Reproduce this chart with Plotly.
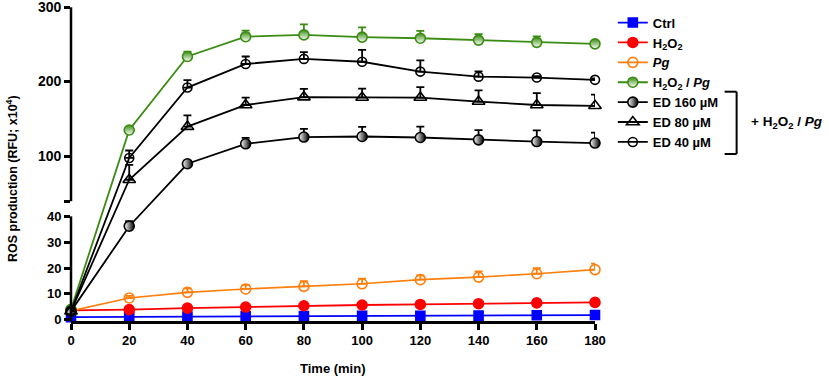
import plotly.graph_objects as go

# ---------------- data ----------------
time = [0, 20, 40, 60, 80, 100, 120, 140, 160, 180]
ctrl = [1.0, 1.1, 1.2, 1.3, 1.4, 1.5, 1.5, 1.6, 1.7, 1.8]
ctrl_err = [0, 0, 0, 0, 0, 0, 0, 0, 0, 0]
h2o2 = [3.6, 3.9, 4.5, 4.9, 5.4, 5.7, 5.9, 6.2, 6.5, 6.7]
h2o2_err = [0, 0, 0, 0, 0, 0, 0, 0, 0, 0]
pg = [3.4, 8.4, 10.6, 11.9, 12.9, 13.9, 15.5, 16.5, 17.8, 19.4]
pg_err = [0, 0.8, 1.5, 1.6, 2.0, 2.0, 1.7, 2.2, 2.2, 2.3]
h2o2_pg = [4.0, 135.5, 234, 260.6, 263, 260, 258.5, 256, 253, 251]
h2o2_pg_err = [0, 4, 6.5, 8, 14, 13, 10, 8, 8, 2]
ed160 = [3.3, 36.2, 90.2, 117, 126, 126.8, 125.4, 122.3, 120, 118]
ed160_err = [0, 2, 2, 8, 11, 13, 14.5, 13, 15, 14]
ed80 = [3.3, 68.8, 140, 169, 179.6, 179, 179, 173.6, 169, 167.9]
ed80_err = [0, 20, 15, 10, 11, 12, 14, 15, 16, 15]
ed40 = [3.3, 98, 192.4, 224, 230.8, 227, 213.8, 207, 205.8, 202.7]
ed40_err = [0, 10, 10, 10, 9, 16, 15, 7, 2, 2]

x_ticks = [0, 20, 40, 60, 80, 100, 120, 140, 160, 180]
y_low_ticks = [0, 10, 20, 30, 40]
y_high_ticks = [40, 100, 200, 300]

# ---------------- broken-axis scale ----------------
LOW_TOP = 40
HIGH_BOTTOM = 40
HIGH_TOP = 300
PX_LOW = 2.587      # px per unit, lower segment
PX_GAP = 15.2       # px gap between segments
PX_HIGH = 0.747     # px per unit, upper segment


def T(v):
    if v <= LOW_TOP:
        return v * PX_LOW
    return LOW_TOP * PX_LOW + PX_GAP + (v - HIGH_BOTTOM) * PX_HIGH


Y0 = T(-0.5)
Y1 = T(HIGH_TOP) + 1.3


def yfrac(v_t):
    return (v_t - Y0) / (Y1 - Y0)


FONT = "Arial, Liberation Sans, sans-serif"

fig = go.Figure()


def add(name, y, err, color, symbol, size, fill=None, gradient=None, lw=1.8):
    yt = [T(v) for v in y]
    up = [T(v + e) - T(v) for v, e in zip(y, err)]
    marker = dict(symbol=symbol, size=size, color=fill if fill else color,
                  line=dict(color=color, width=1.6))
    if gradient:
        marker["gradient"] = gradient
    fig.add_trace(go.Scatter(
        x=time, y=yt, name=name, mode="lines+markers",
        line=dict(color=color, width=lw),
        marker=marker,
        error_y=dict(type="data", array=up, arrayminus=[0] * len(up),
                     symmetric=False, color=color, thickness=1.8, width=4),
        cliponaxis=False,
    ))


add("<b>Ctrl</b>", ctrl, ctrl_err, "#0000FF", "square", 9)
add("<b>H<sub>2</sub>O<sub>2</sub></b>", h2o2, h2o2_err, "#FF0000", "circle", 10)
add("<b><i>Pg</i></b>", pg, pg_err, "#FF7F0E", "circle-open", 10, lw=1.6)
add("<b>H<sub>2</sub>O<sub>2</sub> / <i>Pg</i></b>", h2o2_pg, h2o2_pg_err, "#3A8C12",
    "circle", 10, fill="#3A8C12", gradient=dict(type="vertical", color="white"))
add("<b>ED 160 µM</b>", ed160, ed160_err, "#000000", "circle", 10,
    fill="white", gradient=dict(type="horizontal", color="black"))
add("<b>ED 80 µM</b>", ed80, ed80_err, "#000000", "triangle-up-open", 11)
add("<b>ED 40 µM</b>", ed40, ed40_err, "#000000", "circle-open", 9)

tickvals = [T(v) for v in y_low_ticks] + [T(v) + PX_GAP for v in y_high_ticks[:1]] + \
           [T(v) for v in y_high_ticks[1:]]
ticktext = [str(v) for v in y_low_ticks] + [""] + \
           ['<span style="font-size:14px">%d</span>' % v for v in y_high_ticks[1:]]

fig.update_layout(
    width=829, height=378,
    margin=dict(l=71, r=233.7, t=6, b=57),
    plot_bgcolor="white", paper_bgcolor="white",
    font=dict(family=FONT, size=13, color="black"),
    showlegend=True,
    legend=dict(x=1.034, y=0.995, xanchor="left", yanchor="top",
                font=dict(family=FONT, size=13, color="black"),
                bgcolor="rgba(0,0,0,0)", tracegroupgap=0),
    xaxis=dict(range=[0, 180], tickvals=x_ticks, ticks="outside", ticklen=6,
               tickwidth=2.5, tickcolor="black", showline=True, linewidth=2.5,
               linecolor="black", showgrid=False, zeroline=False,
               automargin=False, ticklabeloverflow="allow",
               tickfont=dict(family=FONT, size=13, weight="bold")),
    yaxis=dict(range=[Y0, Y1], tickvals=tickvals, ticktext=ticktext,
               ticks="outside", ticklen=6, tickwidth=2.5, tickcolor="black",
               showline=False, showgrid=False, zeroline=False,
               automargin=False, ticklabeloverflow="allow",
               tickfont=dict(family=FONT, size=13, weight="bold")),
)

# broken y-axis line segments
fig.add_shape(type="line", xref="paper", yref="paper", x0=0, x1=0,
              y0=0, y1=yfrac(T(LOW_TOP)), line=dict(color="black", width=2.5))
fig.add_shape(type="line", xref="paper", yref="paper", x0=0, x1=0,
              y0=yfrac(T(HIGH_BOTTOM) + PX_GAP), y1=yfrac(T(HIGH_TOP)),
              line=dict(color="black", width=2.5))

# bracket for the ED group
ph = 378 - 6 - 57
bx = (737 - 71) / 524.3
bx0 = (725 - 71) / 524.3
by0 = (321 - 154) / ph
by1 = (321 - 91.7) / ph
fig.add_shape(type="line", xref="paper", yref="paper", x0=bx, x1=bx, y0=by0, y1=by1,
              line=dict(color="black", width=2))
fig.add_shape(type="line", xref="paper", yref="paper", x0=bx0, x1=bx, y0=by0, y1=by0,
              line=dict(color="black", width=2))
fig.add_shape(type="line", xref="paper", yref="paper", x0=bx0, x1=bx, y0=by1, y1=by1,
              line=dict(color="black", width=2))

fig.add_annotation(xref="paper", yref="paper", x=(749 - 71) / 524.3, y=(321 - 122.7) / ph,
                   xanchor="left", yanchor="middle", showarrow=False,
                   text="<b>+ H<sub>2</sub>O<sub>2</sub> / <i>Pg</i></b>",
                   font=dict(family=FONT, size=13.5, color="black"))

# axis titles
fig.add_annotation(xref="paper", yref="paper", x=(12 - 71) / 524.3, y=(321 - 179) / ph,
                   xanchor="center", yanchor="middle", showarrow=False, textangle=-90,
                   text="<b>ROS production (RFU; x10<sup>4</sup>)</b>",
                   font=dict(family=FONT, size=12.5, color="black"))
fig.add_annotation(xref="paper", yref="paper", x=0.5, y=(321 - 368) / ph,
                   xanchor="center", yanchor="middle", showarrow=False,
                   text="<b>Time (min)</b>",
                   font=dict(family=FONT, size=13, color="black"))

fig.write_html("out.html", config={"displayModeBar": False},
               post_script="document.body.style.margin='0';document.body.style.padding='0';")
